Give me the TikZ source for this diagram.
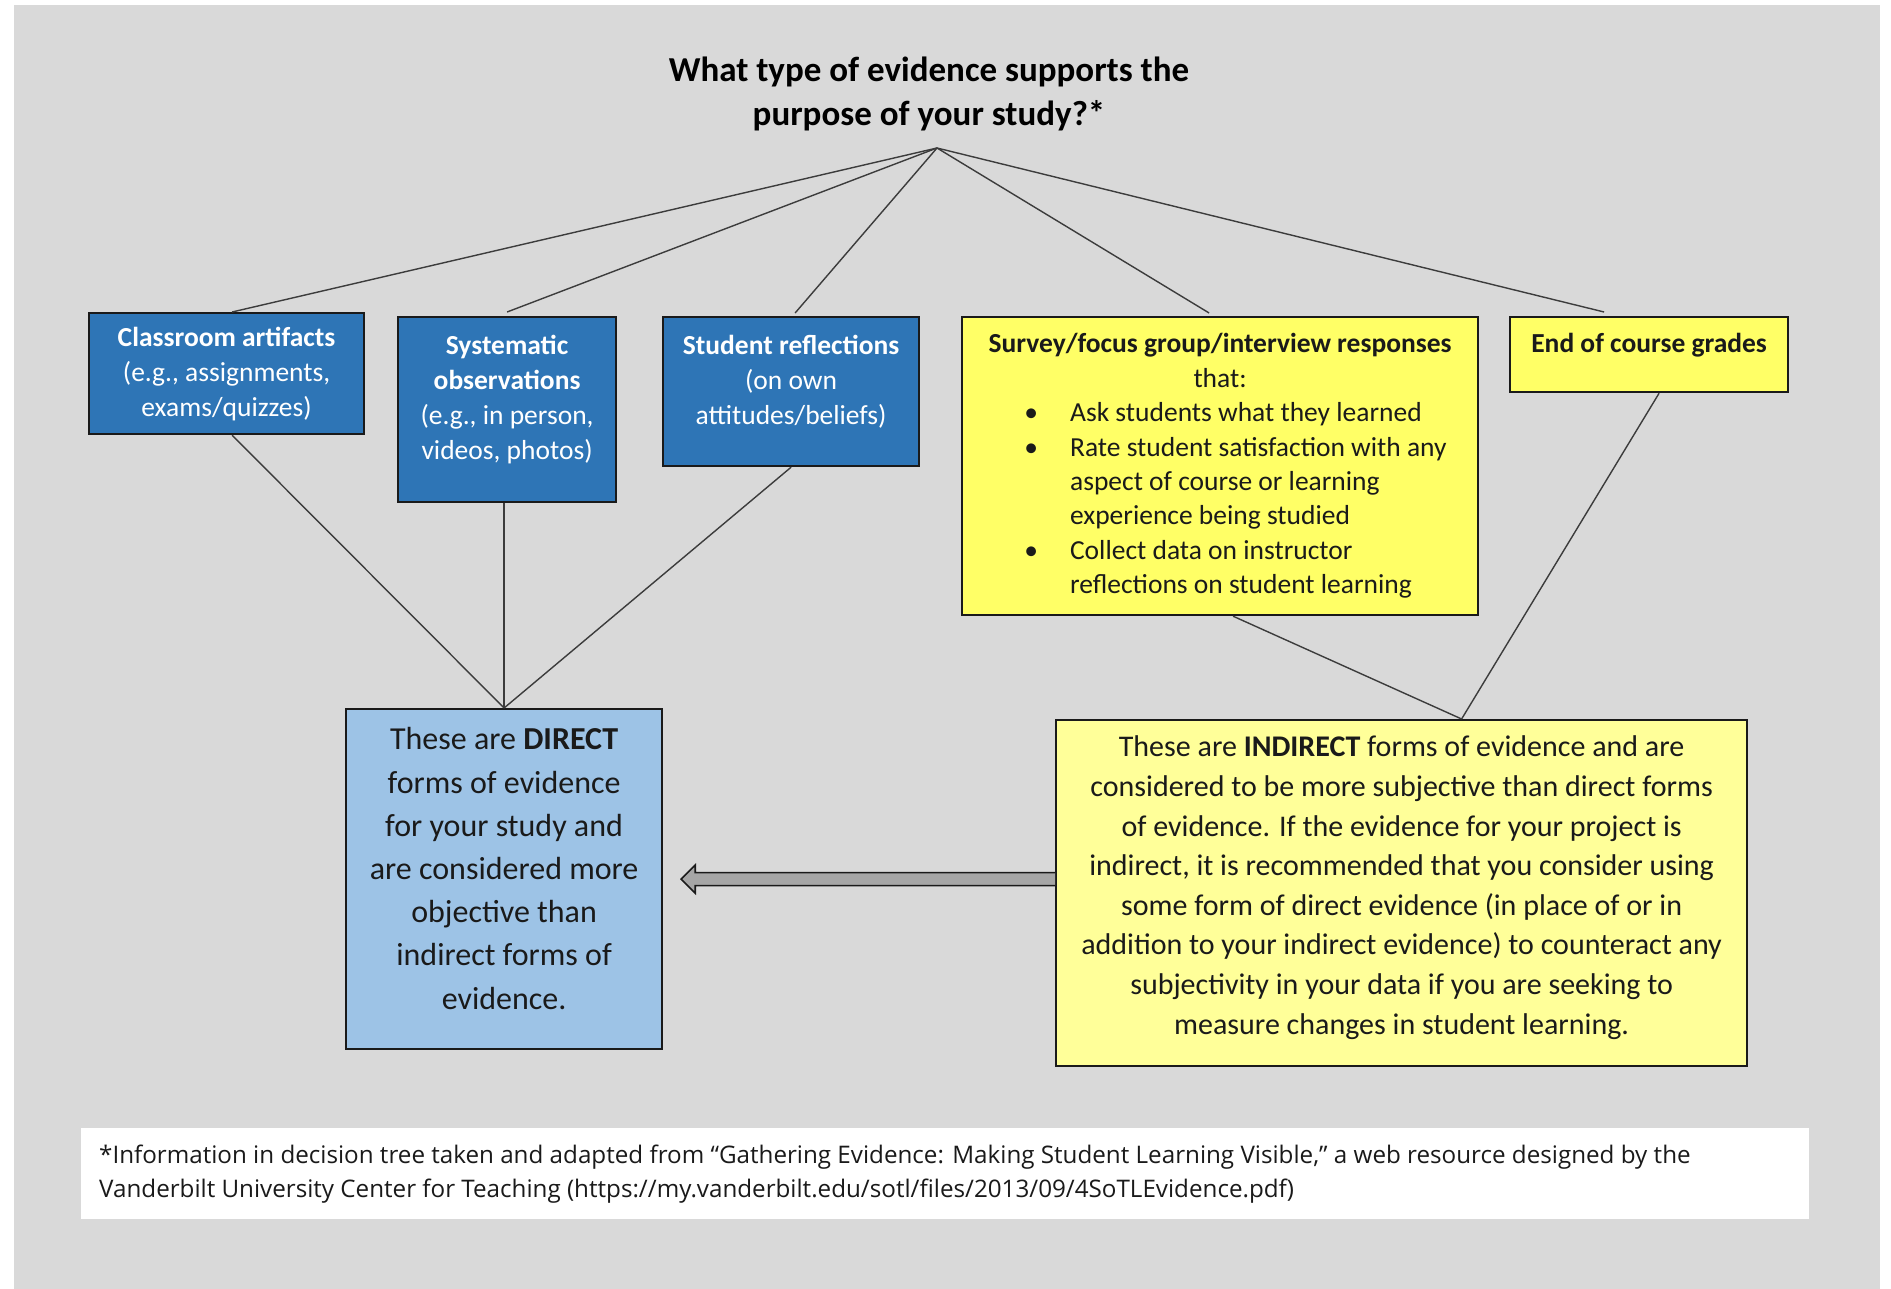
\documentclass[tikz,border=0pt]{standalone}
\usepackage{fontspec}
\setmainfont{Carlito}
\newfontfamily\notefont{Open Sans}
\usetikzlibrary{calc}
\definecolor{bg}{HTML}{D9D9D9}
\definecolor{darkblue}{HTML}{2E75B6}
\definecolor{lightblue}{HTML}{9DC3E6}
\definecolor{brightyellow}{HTML}{FFFF66}
\definecolor{paleyellow}{HTML}{FFFF99}
\definecolor{arrowgray}{HTML}{A6A6A6}
\definecolor{ink}{HTML}{1A1A1A}
\tikzset{
  boxbase/.style={rectangle, inner sep=0pt, line width=2.2pt, anchor=north west},
  bluebox/.style={boxbase, draw=ink, fill=darkblue},
  yellowbox/.style={boxbase, draw=ink, fill=brightyellow},
  directbox/.style={boxbase, draw=ink, fill=lightblue},
  indirectbox/.style={boxbase, draw=ink, fill=paleyellow},
  notebox/.style={boxbase, fill=white},
  bluetext/.style={text=white, align=center, inner sep=0pt, font=\fontsize{27.5}{35}\selectfont},
  yellowtext/.style={text=ink, align=center, inner sep=0pt, font=\fontsize{27.5}{34.4}\selectfont},
  bigtext/.style={text=ink, align=center, inner sep=0pt, font=\fontsize{32}{43.2}\selectfont},
  midtext/.style={text=ink, align=center, inner sep=0pt, font=\fontsize{30}{39.6}\selectfont},
  titletext/.style={text=black, align=center, inner sep=0pt, font=\fontsize{35}{44}\selectfont\bfseries},
  notetext/.style={text=ink, align=left, inner sep=0pt, font=\notefont\fontsize{24.2}{34}\selectfont},
  conn/.style={draw=ink!85, line width=1.4pt},
}
\begin{document}
\begin{tikzpicture}[x=1pt,y=-1pt]
\useasboundingbox (0,0) rectangle (1891,1289);
\fill[bg] (14,5) rectangle (1880,1289);

% title
\node[titletext] (title) at (929,94) {What type of evidence supports the\\purpose of your study?*};
\coordinate (apex) at (937,148);

% top row boxes
\node[bluebox, minimum width=275pt, minimum height=121pt] (ca) at (88,312) {};
\node[bluebox, minimum width=218pt, minimum height=185pt] (so) at (397,316) {};
\node[bluebox, minimum width=256pt, minimum height=149pt] (sr) at (662,316) {};
\node[yellowbox, minimum width=516pt, minimum height=298pt] (sv) at (961,316) {};
\node[yellowbox, minimum width=278pt, minimum height=75pt] (eg) at (1509,316) {};

\node[bluetext] (cat) at (ca.center) {\textbf{Classroom artifacts}\\(e.g., assignments,\\exams/quizzes)};
\node[bluetext] (sot) at ([yshift=10pt]so.center) {\textbf{Systematic}\\\textbf{observations}\\(e.g., in person,\\videos, photos)};
\node[bluetext] (srt) at ([yshift=10pt]sr.center) {\textbf{Student reflections}\\(on own\\attitudes/beliefs)};
\node[yellowtext, anchor=center] (svt) at (sv.center) {%
\begin{minipage}{516pt}\centering\textbf{Survey/focus group/interview responses}\\that:\par
\raggedright\leftskip=108pt
\makebox[0pt][r]{\textbullet\hspace{32pt}}Ask students what they learned\par
\makebox[0pt][r]{\textbullet\hspace{32pt}}Rate student satisfaction with any\\aspect of course or learning\\experience being studied\par
\makebox[0pt][r]{\textbullet\hspace{32pt}}Collect data on instructor\\reflections on student learning\par
\end{minipage}};
\node[yellowtext] (egt) at ([yshift=9.5pt]eg.center) {\textbf{End of course grades}};

% bottom boxes
\node[directbox, minimum width=316pt, minimum height=340pt] (di) at (345,708) {};
\node[indirectbox, minimum width=691pt, minimum height=346pt] (in) at (1055,719) {};
\node[bigtext] (dit) at ([yshift=10.5pt]di.center) {These are \textbf{DIRECT}\\forms of evidence\\for your study and\\are considered more\\objective than\\indirect forms of\\evidence.};
\node[midtext] (int) at ([yshift=5.5pt]in.center) {These are \textbf{INDIRECT} forms of evidence and are\\considered to be more subjective than direct forms\\of evidence. If the evidence for your project is\\indirect, it is recommended that you consider using\\some form of direct evidence (in place of or in\\addition to your indirect evidence) to counteract any\\subjectivity in your data if you are seeking to\\measure changes in student learning.};

% connectors from the question
\draw[conn] (apex) -- ([xshift=5.5pt]ca.north);
\draw[conn] (apex) -- ([yshift=4pt]so.north);
\draw[conn] (apex) -- ([xshift=4pt,yshift=3pt]sr.north);
\draw[conn] (apex) -- ([xshift=-11pt,yshift=3pt]sv.north);
\draw[conn] (apex) -- ([xshift=-45pt,yshift=4pt]eg.north);

% connectors to the conclusions
\draw[conn] ([xshift=5.5pt]ca.south) -- (di.north);
\draw[conn] ([xshift=-3pt]so.south) -- (di.north);
\draw[conn] (sr.south) -- (di.north);
\draw[conn] ([xshift=13pt]sv.south) -- ([xshift=60pt]in.north);
\draw[conn] ([xshift=10pt]eg.south) -- ([xshift=60pt]in.north);

% block arrow from indirect to direct
\coordinate (aS) at (in.west |- di.east);
\coordinate (aT) at ([xshift=18pt]di.east);
\draw[fill=arrowgray, draw=ink, line width=1.6pt, line join=miter]
  ([yshift=6.5pt]aS) -- ([xshift=14pt,yshift=6.5pt]aT) -- ([xshift=14pt,yshift=14pt]aT)
  -- (aT) -- ([xshift=14pt,yshift=-14pt]aT) -- ([xshift=14pt,yshift=-6.5pt]aT)
  -- ([yshift=-6.5pt]aS);

% footnote
\node[notebox, minimum width=1728pt, minimum height=91pt] (nb) at (80,1127) {};
\node[notetext, anchor=west] (nt) at ([xshift=19pt,yshift=-1pt]nb.west) {*Information in decision tree taken and adapted from “Gathering Evidence: Making Student Learning Visible,” a web resource designed by the\\Vanderbilt University Center for Teaching (https://my.vanderbilt.edu/sotl/files/2013/09/4SoTLEvidence.pdf)};
\end{tikzpicture}
\end{document}
